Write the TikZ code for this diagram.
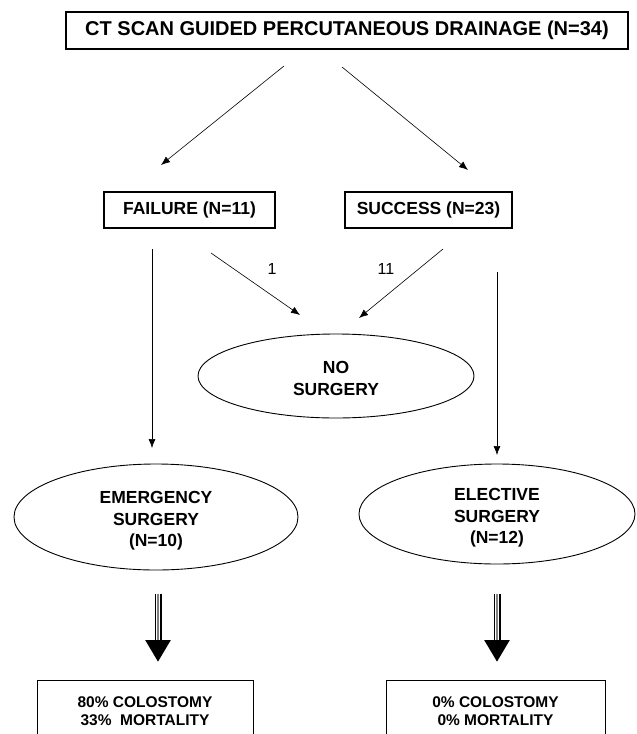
\documentclass[tikz,border=0pt]{standalone}
\usepackage{fontspec}
\setmainfont{Liberation Sans}
\usetikzlibrary{arrows.meta,shapes.geometric,calc}
\newcommand\lowtext[1]{\raisebox{-4pt}[\height][\depth]{\begin{tabular}{@{}c@{}}#1\end{tabular}}}
\tikzset{
  topbox/.style={draw,line width=1.8pt,minimum width=562pt,minimum height=37pt,inner sep=0pt,font=\fontsize{20}{24}\selectfont\bfseries},
  midbox/.style={draw,line width=1.4pt,minimum height=36pt,inner sep=0pt,font=\fontsize{17.5}{21}\selectfont\bfseries},
  oval/.style={draw,ellipse,line width=0.9pt,inner sep=0pt,font=\fontsize{17.5}{21.5}\selectfont\bfseries},
  resbox/.style={draw,line width=0.9pt,anchor=north,inner xsep=0pt,inner ysep=0pt,font=\fontsize{15.5}{18}\selectfont\bfseries},
  arr/.style={line width=0.6pt,-{Latex[length=9pt,width=7pt]}},
  numlab/.style={font=\fontsize{16}{18}\selectfont},
  shaftout/.style={line width=7pt,-{Triangle[length=22pt,width=24pt]}},
  shaftmid/.style={line width=3.6pt,white},
  shaftin/.style={line width=1.4pt,gray}
}
\begin{document}
\begin{tikzpicture}[x=1pt,y=-1pt]
\useasboundingbox[fill=white] (0,0) rectangle (637,734);
\node[topbox] (top) at (347,30.5) {CT SCAN GUIDED PERCUTANEOUS DRAINAGE (N=34)};
\node[midbox,minimum width=171pt] (fail) at (189.5,210) {FAILURE (N=11)};
\node[midbox,minimum width=167pt] (succ) at (428.5,210) {SUCCESS (N=23)};
\node[oval,minimum width=276pt,minimum height=84pt] (nosurg) at (336,376) {\lowtext{NO\\SURGERY}};
\node[oval,minimum width=284pt,minimum height=106pt] (emerg) at (156,517) {\lowtext{EMERGENCY\\SURGERY\\(N=10)}};
\node[oval,minimum width=276pt,minimum height=100pt] (elect) at (497,514) {\lowtext{ELECTIVE\\SURGERY\\(N=12)}};
\node[resbox,minimum width=216pt] (res1) at (145,680) {\begin{tabular}{@{}c@{}}\rule{0pt}{27.5pt}80\% COLOSTOMY\\33\%\ \ MORTALITY\\[30pt]\end{tabular}};
\node[resbox,minimum width=219pt] (res2) at (495.5,680) {\begin{tabular}{@{}c@{}}\rule{0pt}{27.5pt}0\% COLOSTOMY\\0\% MORTALITY\\[30pt]\end{tabular}};
% free connector ends
\coordinate (a1s) at (284,66);  \coordinate (a1e) at (161,165);
\coordinate (a2s) at (342,67);  \coordinate (a2e) at (468,170);
\coordinate (a3s) at (152,249); \coordinate (a3e) at (152,448);
\coordinate (a4s) at (211,253); \coordinate (a4e) at (300,315);
\coordinate (a5s) at (443,249); \coordinate (a5e) at (359,318);
\coordinate (a6s) at (497,272); \coordinate (a6e) at (497,455);
\draw[arr] (a1s) -- (a1e);
\draw[arr] (a2s) -- (a2e);
\draw[arr] (a3s) -- (a3e);
\draw[arr] (a4s) -- (a4e);
\draw[arr] (a5s) -- (a5e);
\draw[arr] (a6s) -- (a6e);
\node[numlab] (n1) at (272,269) {1};
\node[numlab] (n11) at (386,269) {11};
% triple-line arrows
\coordinate (b1s) at ([xshift=2pt]emerg.south);
\coordinate (b1e) at (b1s |- res1.north);
\coordinate (b2s) at (elect.south);
\coordinate (b2e) at (b2s |- res2.north);
\foreach \s/\e/\g in {b1s/b1e/24pt,b2s/b2e/30pt}{
  \draw[shaftout,shorten <=\g,shorten >=18pt] (\s) -- (\e);
  \draw[shaftmid,shorten <=\g,shorten >=40pt] (\s) -- (\e);
  \draw[shaftin,shorten <=\g,shorten >=40pt] (\s) -- (\e);
}
\end{tikzpicture}
\end{document}
